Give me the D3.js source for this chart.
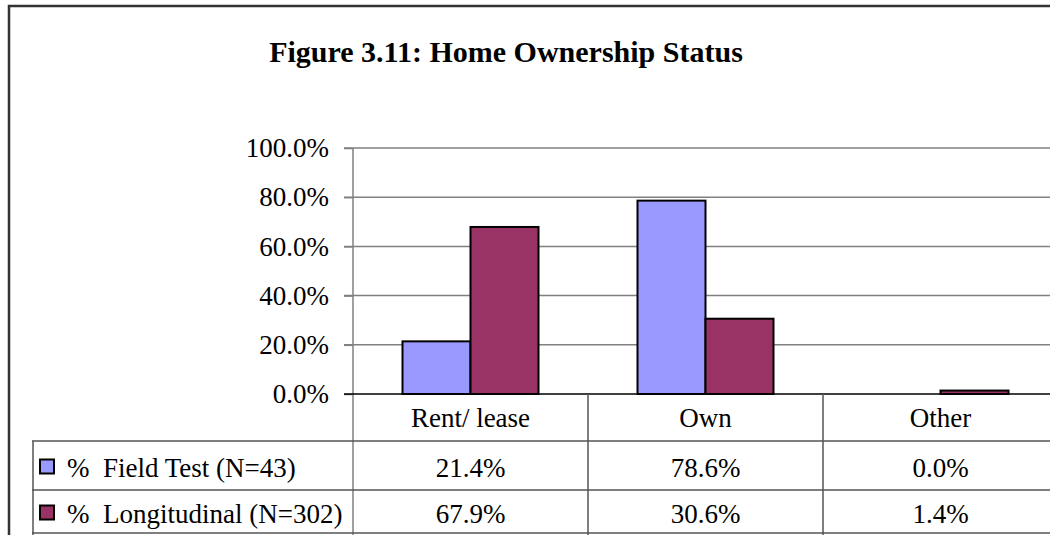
<!DOCTYPE html>
<head>
    <meta charset="utf-8">
    <script src="https://d3js.org/d3.v7.min.js"></script>
    <style>
        *{ margin:0; padding:0; }
        body{ background:#fff; }
        svg{ display:block; font-family:'Liberation Serif', 'Times New Roman', serif; }
    </style>
</head>
<body>
<svg id="chart"></svg>
<script>

    //data
    let categories = ["Rent/ lease", "Own", "Other"];
    let series = ["% Field Test (N=43)", "% Longitudinal (N=302)"];
    let fieldTest = [0.214, 0.786, 0.0];
    let longitudinal = [0.679, 0.306, 0.014];
    let yTicks = [0, 0.2, 0.4, 0.6, 0.8, 1.0];
    let colors = ["#9999ff", "#993366"];

    let values = [fieldTest, longitudinal];

    let W = 1050, H = 535;
    let fs = 27;
    let svg = d3.select("#chart").attr("width", W).attr("height", H);

    //scales
    let x = d3.scaleBand().domain(categories).range([353, 1058]).padding(0);
    let x1 = d3.scaleBand().domain(series).range([0, x.bandwidth()]).paddingInner(0).paddingOuter(0.728);
    let y = d3.scaleLinear().domain([0, 1]).range([394, 148]);
    let fmt = d3.format(".1%");

    //outer frame (only top and left visible)
    svg.append("path")
        .attr("d", "M9,535 V6 H1050")
        .attr("fill", "none")
        .attr("stroke", "#333")
        .attr("stroke-width", 2.5);

    //title
    svg.append("text")
        .attr("x", 506)
        .attr("y", 62)
        .attr("text-anchor", "middle")
        .attr("font-size", 30)
        .attr("font-weight", "bold")
        .text("Figure 3.11: Home Ownership Status");

    //gridlines
    svg.append("g").selectAll("line")
        .data(yTicks.filter(d => d > 0))
        .join("line")
        .attr("x1", 344).attr("x2", 1058)
        .attr("y1", d => y(d)).attr("y2", d => y(d))
        .attr("stroke", "#808080")
        .attr("stroke-width", 1.5);

    //y axis
    let yAxis = svg.append("g")
        .attr("transform", "translate(353,0)")
        .call(d3.axisLeft(y).tickValues(yTicks).tickFormat(fmt).tickSize(9).tickPadding(15));
    yAxis.select(".domain").remove();
    yAxis.selectAll(".tick line").attr("stroke", "#808080").attr("stroke-width", 1.5);
    yAxis.selectAll("text")
        .attr("font-size", fs)
        .attr("font-family", "'Liberation Serif', serif")
        .attr("fill", "#000");

    //vertical axis line down through table
    svg.append("line")
        .attr("x1", 353).attr("x2", 353)
        .attr("y1", 148).attr("y2", 535)
        .attr("stroke", "#808080").attr("stroke-width", 1.5);

    //bars
    series.forEach((s, si) => {
        svg.append("g").selectAll("rect")
            .data(categories.map((c, i) => ({c: c, v: values[si][i]})).filter(d => d.v > 0))
            .join("rect")
            .attr("x", d => x(d.c) + x1(s))
            .attr("y", d => y(d.v))
            .attr("width", x1.bandwidth())
            .attr("height", d => y(0) - y(d.v))
            .attr("fill", colors[si])
            .attr("stroke", "#000")
            .attr("stroke-width", 2);
    });

    //baseline
    svg.append("line")
        .attr("x1", 344).attr("x2", 1058)
        .attr("y1", y(0)).attr("y2", y(0))
        .attr("stroke", "#000").attr("stroke-width", 1.5);

    //data table
    let rowY = [394, 441, 490, 533];
    let table = svg.append("g");

    //horizontal table lines
    table.selectAll("line.h")
        .data(rowY.slice(1))
        .join("line")
        .attr("class", "h")
        .attr("x1", 32).attr("x2", 1058)
        .attr("y1", d => d).attr("y2", d => d)
        .attr("stroke", "#555").attr("stroke-width", 1.5);

    //vertical table lines
    table.append("line")
        .attr("x1", 33).attr("x2", 33)
        .attr("y1", rowY[1]).attr("y2", 535)
        .attr("stroke", "#555").attr("stroke-width", 1.5);
    table.selectAll("line.v")
        .data(categories.slice(1))
        .join("line")
        .attr("class", "v")
        .attr("x1", d => x(d)).attr("x2", d => x(d))
        .attr("y1", rowY[0]).attr("y2", 535)
        .attr("stroke", "#555").attr("stroke-width", 1.5);

    //category labels
    table.selectAll("text.cat")
        .data(categories)
        .join("text")
        .attr("class", "cat")
        .attr("x", d => x(d) + x.bandwidth() / 2)
        .attr("y", (rowY[0] + rowY[1]) / 2)
        .attr("dy", "0.35em")
        .attr("text-anchor", "middle")
        .attr("font-size", fs)
        .text(d => d);

    //rows
    series.forEach((s, si) => {
        let cy = (rowY[si + 1] + rowY[si + 2]) / 2 + 2;
        table.append("rect")
            .attr("x", 40).attr("y", cy - 8)
            .attr("width", 14).attr("height", 14)
            .attr("fill", colors[si])
            .attr("stroke", "#000")
            .attr("stroke-width", 2);
        table.append("text")
            .attr("x", 67).attr("y", cy)
            .attr("dy", "0.35em")
            .attr("font-size", fs)
            .attr("xml:space", "preserve")
            .text(s.replace("% ", "%  "));
        table.selectAll(null)
            .data(categories)
            .join("text")
            .attr("x", d => x(d) + x.bandwidth() / 2)
            .attr("y", cy)
            .attr("dy", "0.35em")
            .attr("text-anchor", "middle")
            .attr("font-size", fs)
            .text((d, i) => fmt(values[si][i]));
    });

</script>
</body>
